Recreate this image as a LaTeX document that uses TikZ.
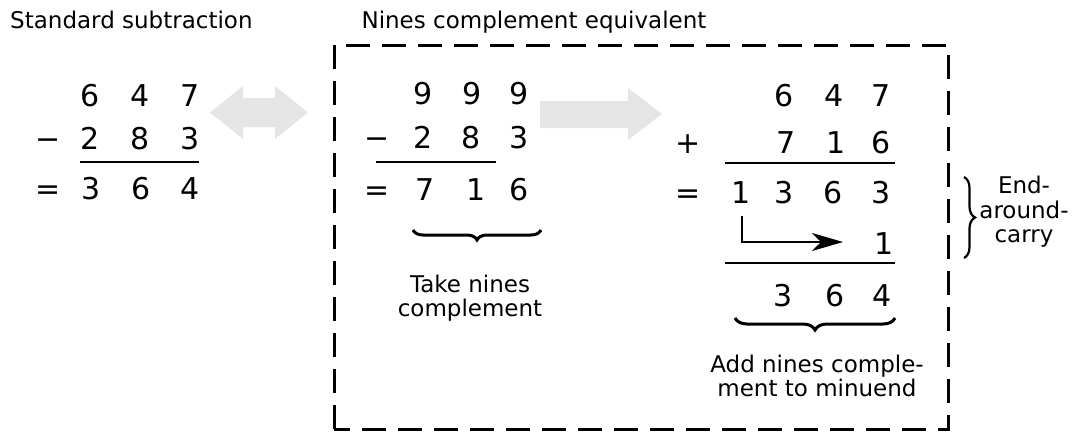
\documentclass[tikz,border=0pt]{standalone}
\usepackage{fontspec}
\setmainfont{DejaVu Sans}
\usetikzlibrary{arrows.meta,decorations.pathreplacing}
\begin{document}
\begin{tikzpicture}[x=1pt,y=-1pt,
  dig/.style={inner sep=0pt, anchor=base, font=\fontsize{30}{32}\selectfont},
  lbl/.style={inner sep=0pt, align=center, font=\fontsize{23}{24.5}\selectfont},
  rule/.style={line width=1.4pt},
  brc/.style={decorate, decoration={brace, amplitude=10pt}, line width=3pt},
  ghost/.style={fill=black!10, draw=none},
  frame/.style={line width=3pt, dash pattern=on 24pt off 12pt}]
\useasboundingbox (0,0) rectangle (1081,431);

% titles
\node[lbl, anchor=base west] (t1) at (10,28) {Standard subtraction};
\node[lbl, anchor=base] (t2) at (534,28) {Nines complement equivalent};

% frame
\draw[frame] (334,429) -- (334,45) -- (948,45) -- (948,429) -- cycle;

% gray arrows
\fill[ghost] (210,112.5) -- (243,86) -- (243,98) -- (275,98) -- (275,86) -- (308,112.5)
  -- (275,139) -- (275,127) -- (243,127) -- (243,139) -- cycle;
\fill[ghost] (540,101) -- (628,101) -- (628,88) -- (662,114) -- (628,140) -- (628,128)
  -- (540,128) -- cycle;

% left column
\node[dig] (a1) at (90,106) {6};
\node[dig] (a2) at (140,106) {4};
\node[dig] (a3) at (190,106) {7};
\node[dig] (am) at (48,149) {−};
\node[dig] (b1) at (90,149) {2};
\node[dig] (b2) at (140,149) {8};
\node[dig] (b3) at (190,149) {3};
\node[dig] (ae) at (48,199) {=};
\node[dig] (c1) at (91,199) {3};
\node[dig] (c2) at (141,199) {6};
\node[dig] (c3) at (190,199) {4};
\draw[rule] (80,162) -- (199,162);

% middle column
\node[dig] (m11) at (423,104) {9};
\node[dig] (m12) at (472,104) {9};
\node[dig] (m13) at (519,104) {9};
\node[dig] (mm) at (377,148) {−};
\node[dig] (m21) at (423,148) {2};
\node[dig] (m22) at (471,148) {8};
\node[dig] (m23) at (519,148) {3};
\node[dig] (me) at (377,200) {=};
\node[dig] (m31) at (425,200) {7};
\node[dig] (m32) at (476,200) {1};
\node[dig] (m33) at (519,200) {6};
\draw[rule] (376,162) -- (496,162);
\draw[brc] (541,230) -- (413,230);
\node[lbl] (ml) at (470,298) {Take nines\\complement};

% right column
\node[dig] (r12) at (784,106) {6};
\node[dig] (r13) at (834,106) {4};
\node[dig] (r14) at (881,106) {7};
\node[dig] (rp) at (688,153) {+};
\node[dig] (r22) at (786,153) {7};
\node[dig] (r23) at (836,153) {1};
\node[dig] (r24) at (881,153) {6};
\draw[rule] (725,163) -- (895,163);
\node[dig] (re) at (688,203) {=};
\node[dig] (r31) at (741,203) {1};
\node[dig] (r32) at (784,203) {3};
\node[dig] (r33) at (833,203) {6};
\node[dig] (r34) at (881,203) {3};
\node[dig] (r44) at (884,254) {1};
\coordinate (cs) at (742,216);
\coordinate (ce) at (843,242);
\draw[line width=1.4pt, -{Stealth[length=31pt,width=18pt,inset=9pt]}] (cs) |- (ce);
\draw[rule] (725,263) -- (895,263);
\node[dig] (r52) at (783,306) {3};
\node[dig] (r53) at (835,306) {6};
\node[dig] (r54) at (882,306) {4};
\draw[brc, decoration={brace, amplitude=12pt}] (895,318) -- (735,318);
\node[lbl] (rl) at (817,376) {Add nines comple-\\ment to minuend};

% end-around carry
\draw[brc, line width=2.2pt, decoration={brace, amplitude=11pt}] (964,177) -- (964,258);
\node[lbl] (eac) at (1024,212) {End-\\around-\\carry};
\end{tikzpicture}
\end{document}
